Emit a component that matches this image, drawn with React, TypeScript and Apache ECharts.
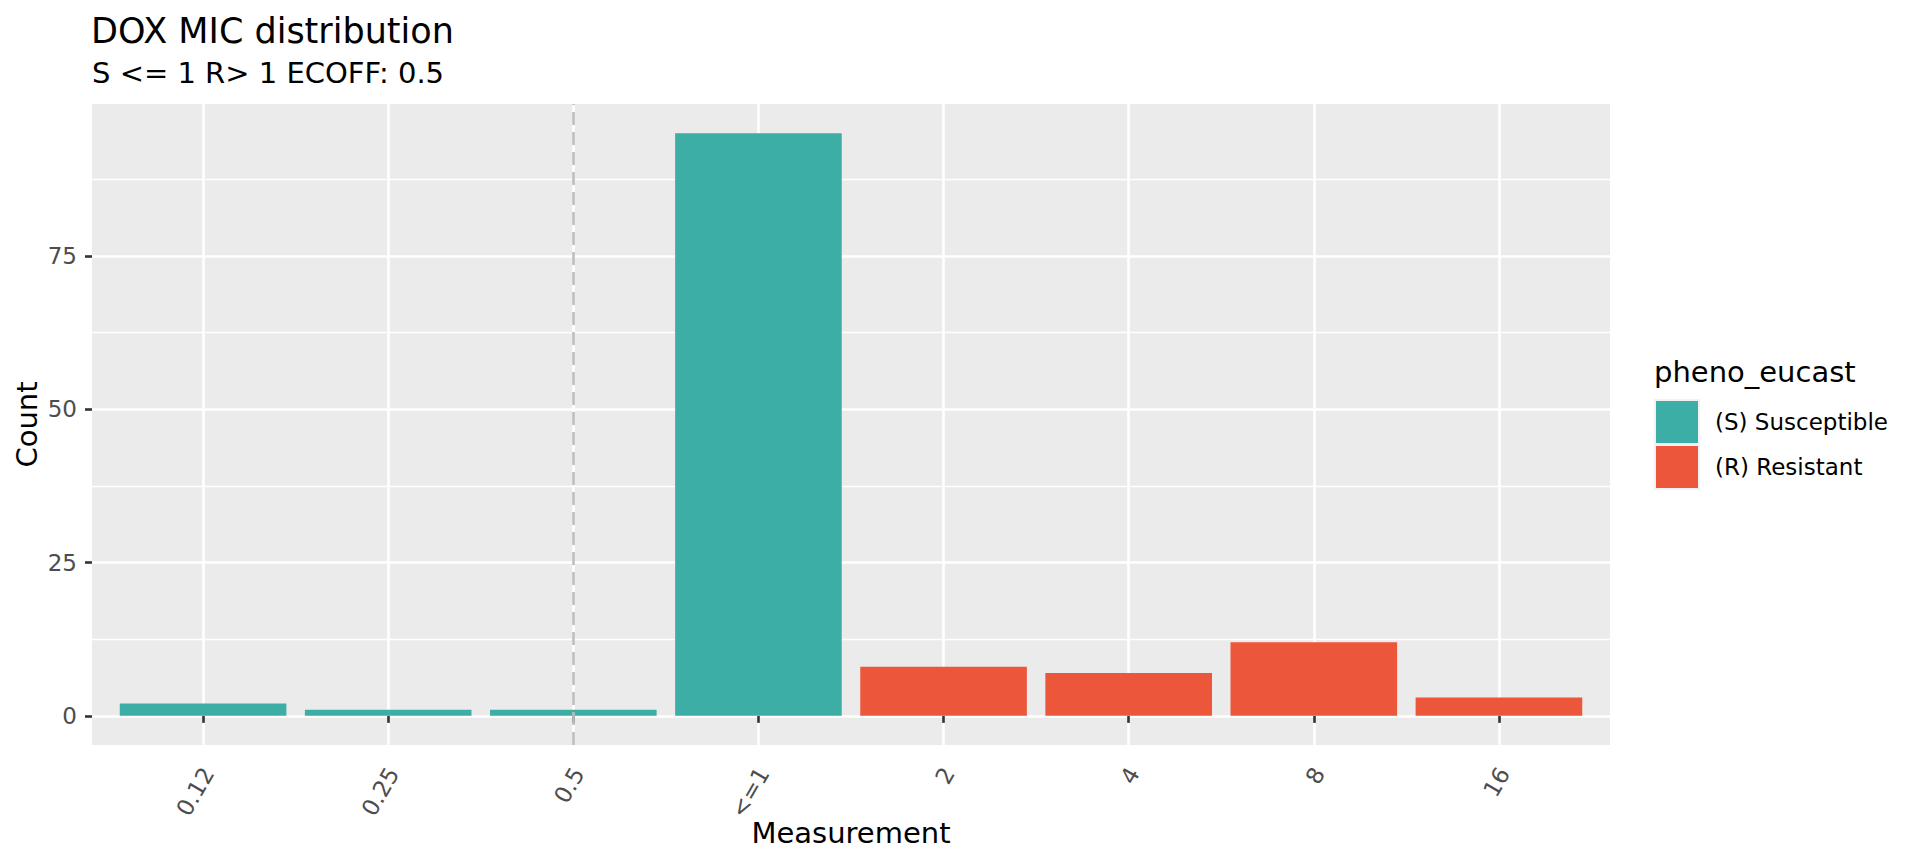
import { useEffect, useRef } from 'react';
import * as echarts from 'echarts';

const categories = ['0.12', '0.25', '0.5', '<=1', '2', '4', '8', '16'];
const susceptible = [2, 1, 1, 95, null, null, null, null];
const resistant = [null, null, null, null, 8, 7, 12, 3];
const yTicks = [0, 25, 50, 75];
const yMinorTicks = [12.5, 37.5, 62.5, 87.5];
const ecoff = '0.5';
const seriesNames = ['(S) Susceptible', '(R) Resistant'];

const FONT = '"DejaVu Sans", sans-serif';
const TEAL = '#3DAEA5';
const RED = '#EC563B';

export default function App() {
  const ref = useRef<HTMLDivElement>(null);
  useEffect(() => {
    document.body.style.margin = '0';
    const chart = echarts.init(ref.current!, null, { renderer: 'svg' });

    const n = categories.length;
    const PL = 92, PT = 104, PW = 1518, PH = 641;
    const unit = PW / (n + 0.2);
    const allVals = [...susceptible, ...resistant].filter((v) => v != null) as number[];
    const dmax = Math.max(...allVals);
    const ymin = -dmax * 0.05;
    const ymax = dmax * 1.05;

    const option: any = {
      animation: false,
      textStyle: { fontFamily: FONT },
      grid: [
        { left: PL, top: PT, width: PW, height: PH, show: true, backgroundColor: '#EBEBEB', borderWidth: 0 },
        { left: PL + 0.1 * unit, top: PT, width: n * unit, height: PH },
      ],
      xAxis: [
        {
          type: 'value', gridIndex: 0, min: 0.4, max: n + 0.6,
          axisLine: { show: false },
          axisTick: { show: false, customValues: categories.map((_, i) => i + 1) },
          axisLabel: { show: false },
          splitLine: { show: true, lineStyle: { color: '#FFFFFF', width: 2.6 } },
        },
        {
          type: 'category', gridIndex: 1, data: categories, boundaryGap: true,
          axisLine: { show: false },
          axisTick: { show: true, alignWithLabel: true, length: 7, lineStyle: { color: '#333333', width: 2.6 } },
          axisLabel: {
            rotate: 60, fontSize: 23, color: '#4D4D4D', margin: 10, verticalAlign: 'top',
            padding: [0, 10, 0, 0], fontFamily: FONT,
          },
          splitLine: { show: false },
        },
      ],
      yAxis: [
        {
          type: 'value', gridIndex: 0, min: ymin, max: ymax,
          axisLine: { show: false },
          axisTick: { show: true, length: 7, lineStyle: { color: '#333333', width: 2.6 }, customValues: yTicks },
          axisLabel: { customValues: yTicks, fontSize: 23, color: '#4D4D4D', margin: 15, fontFamily: FONT },
          splitLine: { show: true, lineStyle: { color: '#FFFFFF', width: 2.6 } },
        },
        {
          type: 'value', gridIndex: 0, min: ymin, max: ymax, position: 'left',
          axisLine: { show: false },
          axisTick: { show: false, customValues: yMinorTicks },
          axisLabel: { show: false },
          splitLine: { show: true, lineStyle: { color: '#FFFFFF', width: 1.3 } },
        },
        { type: 'value', gridIndex: 1, min: ymin, max: ymax, show: false, splitLine: { show: false } },
      ],
      legend: {
        orient: 'vertical', left: 1656, top: 401, padding: 0,
        itemWidth: 42, itemHeight: 42, itemGap: 3, icon: 'rect',
        textStyle: { fontSize: 23, color: '#000000', fontFamily: FONT, padding: [0, 0, 0, 12] },
        data: seriesNames,
      },
      series: [
        {
          type: 'bar', name: seriesNames[0], xAxisIndex: 1, yAxisIndex: 2, stack: 'mic',
          barWidth: '90%', data: susceptible, itemStyle: { color: TEAL },
          markLine: {
            silent: true, symbol: ['none', 'none'], label: { show: false },
            lineStyle: { type: [13, 7], color: '#BDBDBD', width: 2.6 },
            data: [{ xAxis: ecoff }],
          },
        },
        {
          type: 'bar', name: seriesNames[1], xAxisIndex: 1, yAxisIndex: 2, stack: 'mic',
          barWidth: '90%', data: resistant, itemStyle: { color: RED },
        },
      ],
      graphic: [
        { type: 'rect', z: 0, shape: { x: 1654, y: 399, width: 46, height: 91 }, style: { fill: '#F2F2F2' } },
        { type: 'text', x: 91, y: 31, style: { text: 'DOX MIC distribution', fontSize: 35, fontFamily: FONT, fill: '#000000', verticalAlign: 'middle' } },
        { type: 'text', x: 92, y: 73, style: { text: 'S <= 1 R> 1 ECOFF: 0.5', fontSize: 29, fontFamily: FONT, fill: '#000000', verticalAlign: 'middle' } },
        { type: 'text', x: 27, y: PT + PH / 2, rotation: Math.PI / 2, style: { text: 'Count', fontSize: 29, fontFamily: FONT, fill: '#000000', align: 'center', verticalAlign: 'middle' } },
        { type: 'text', x: PL + PW / 2, y: 833, style: { text: 'Measurement', fontSize: 29, fontFamily: FONT, fill: '#000000', align: 'center', verticalAlign: 'middle' } },
        { type: 'text', x: 1654, y: 372, style: { text: 'pheno_eucast', fontSize: 29, fontFamily: FONT, fill: '#000000', verticalAlign: 'middle' } },
      ],
    };

    chart.setOption(option);
    return () => chart.dispose();
  }, []);
  return <div ref={ref} style={{ width: 1920, height: 865 }} />;
}
